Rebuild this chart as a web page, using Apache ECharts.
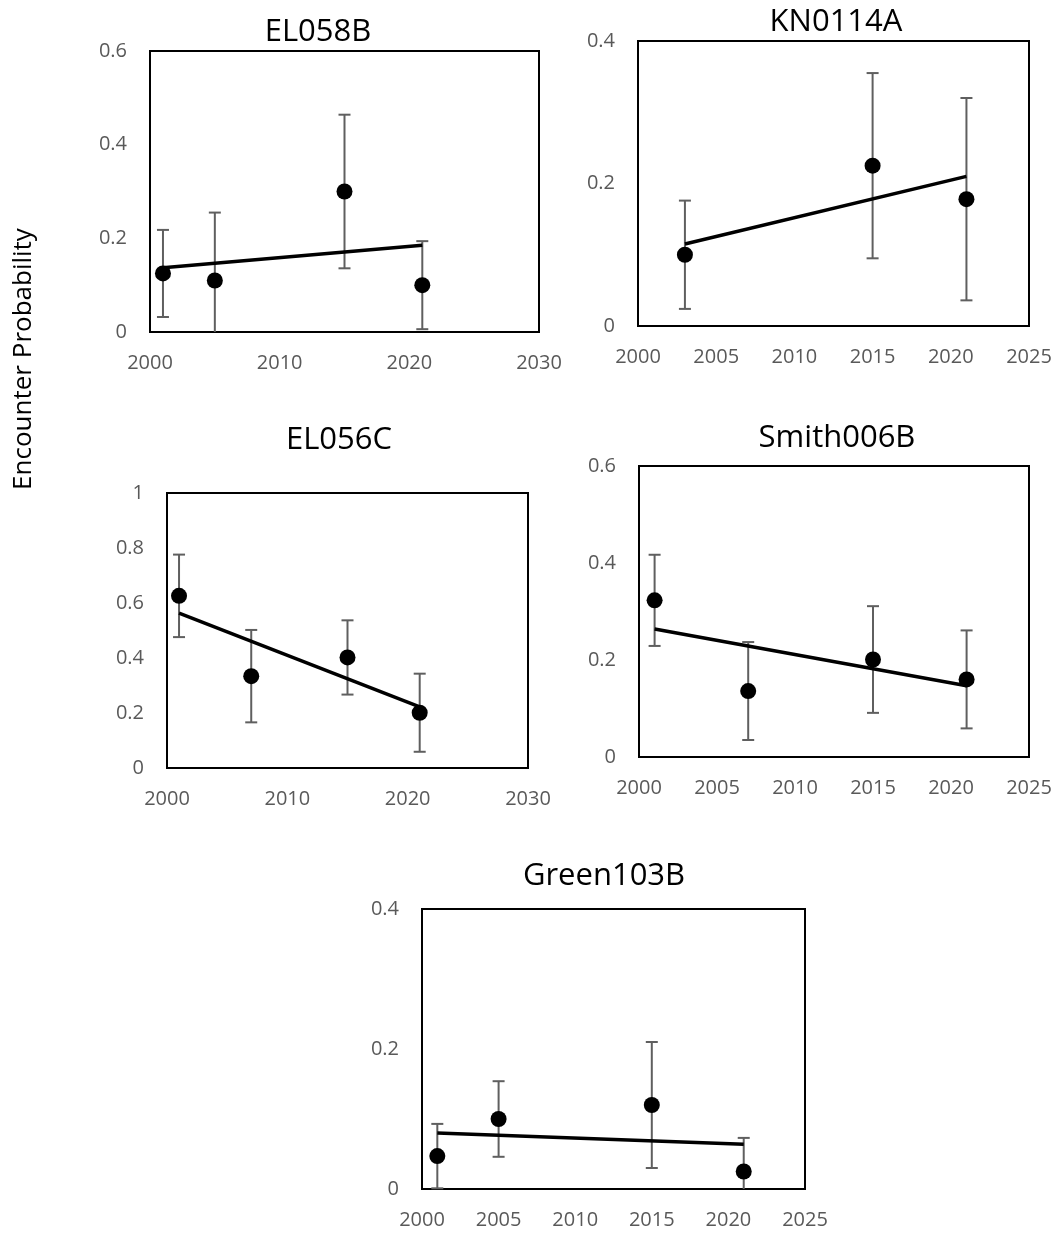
<!DOCTYPE html>
<html>
<head>
<meta charset="utf-8">
<script src="https://cdn.jsdelivr.net/npm/echarts@6/dist/echarts.min.js"></script>
<style>
  html, body { margin: 0; padding: 0; background: #fff; }
  #main { width: 1056px; height: 1235px; }
</style>
</head>
<body>
<div id="main"></div>
<script>
// panel data: survey years, encounter probability, +/- error, trend line ends
var el058bYears = [2001, 2005, 2015, 2021];
var el058bProb = [0.125, 0.11, 0.30, 0.10];
var el058bErr = [0.093, 0.145, 0.164, 0.094];
var el058bTrend = [0.137, 0.185];

var kn0114aYears = [2003, 2015, 2021];
var kn0114aProb = [0.10, 0.225, 0.178];
var kn0114aErr = [0.076, 0.13, 0.142];
var kn0114aTrend = [0.115, 0.21];

var el056cYears = [2001, 2007, 2015, 2021];
var el056cProb = [0.626, 0.334, 0.402, 0.201];
var el056cErr = [0.15, 0.168, 0.135, 0.142];
var el056cTrend = [0.563, 0.222];

var smithYears = [2001, 2007, 2015, 2021];
var smithProb = [0.323, 0.136, 0.201, 0.160];
var smithErr = [0.094, 0.101, 0.11, 0.101];
var smithTrend = [0.264, 0.147];

var greenYears = [2001, 2005, 2015, 2021];
var greenProb = [0.047, 0.10, 0.12, 0.025];
var greenErr = [0.046, 0.054, 0.09, 0.048];
var greenTrend = [0.080, 0.064];

var panels = [
  { name: 'EL058B', years: el058bYears, prob: el058bProb, err: el058bErr, trend: el058bTrend,
    xMax: 2030, xStep: 10, yMax: 0.6,
    grid: { left: 150, top: 51, width: 389, height: 281 }, title: [318, 32] },
  { name: 'KN0114A', years: kn0114aYears, prob: kn0114aProb, err: kn0114aErr, trend: kn0114aTrend,
    xMax: 2025, xStep: 5, yMax: 0.4,
    grid: { left: 638, top: 41, width: 391, height: 285 }, title: [836, 22] },
  { name: 'EL056C', years: el056cYears, prob: el056cProb, err: el056cErr, trend: el056cTrend,
    xMax: 2030, xStep: 10, yMax: 1,
    grid: { left: 167, top: 493, width: 361, height: 275 }, title: [339, 440] },
  { name: 'Smith006B', years: smithYears, prob: smithProb, err: smithErr, trend: smithTrend,
    xMax: 2025, xStep: 5, yMax: 0.6,
    grid: { left: 639, top: 466, width: 390, height: 291 }, title: [837, 438] },
  { name: 'Green103B', years: greenYears, prob: greenProb, err: greenErr, trend: greenTrend,
    xMax: 2025, xStep: 5, yMax: 0.4,
    grid: { left: 422, top: 909, width: 383, height: 280 }, title: [604, 876] }
];

var FONT = 'Open Sans';
var labelGray = '#595959';
var barGray = '#5f5f5f';

var grids = [], xAxes = [], yAxes = [], series = [], graphics = [];

// error bar: vertical line + caps, clamped to the plot box
function errorBarItem(params, api) {
  var x = api.value(0);
  var lo = api.coord([x, api.value(1)]);
  var hi = api.coord([x, api.value(2)]);
  var cs = params.coordSys;
  var bottom = cs.y + cs.height;
  var half = 6;
  var loY = Math.min(lo[1], bottom);
  var st = { stroke: barGray, lineWidth: 2 };
  var children = [
    { type: 'line', shape: { x1: hi[0], y1: hi[1], x2: lo[0], y2: loY }, style: st },
    { type: 'line', shape: { x1: hi[0] - half, y1: hi[1], x2: hi[0] + half, y2: hi[1] }, style: st }
  ];
  if (lo[1] <= bottom) {
    children.push({ type: 'line', shape: { x1: lo[0] - half, y1: lo[1], x2: lo[0] + half, y2: lo[1] }, style: st });
  }
  return { type: 'group', children: children };
}

panels.forEach(function (p, i) {
  grids.push({
    left: p.grid.left, top: p.grid.top, width: p.grid.width, height: p.grid.height,
    show: true, borderColor: '#000', borderWidth: 2, backgroundColor: 'transparent'
  });
  xAxes.push({
    type: 'value', gridIndex: i, min: 2000, max: p.xMax, interval: p.xStep,
    axisLine: { show: false }, axisTick: { show: false }, splitLine: { show: false },
    axisLabel: { color: labelGray, fontFamily: FONT, fontSize: 20, margin: 21,
      formatter: function (v) { return String(v); } }
  });
  yAxes.push({
    type: 'value', gridIndex: i, min: 0, max: p.yMax, interval: 0.2,
    axisLine: { show: false }, axisTick: { show: false }, splitLine: { show: false },
    axisLabel: { color: labelGray, fontFamily: FONT, fontSize: 20, margin: 23 }
  });

  var bars = p.years.map(function (yr, k) {
    return [yr, p.prob[k] - p.err[k], p.prob[k] + p.err[k]];
  });
  series.push({
    type: 'custom', xAxisIndex: i, yAxisIndex: i, silent: true,
    renderItem: errorBarItem, data: bars, z: 2
  });
  series.push({
    type: 'line', xAxisIndex: i, yAxisIndex: i, silent: true, symbol: 'none',
    lineStyle: { color: '#000', width: 3.5 },
    data: [[p.years[0], p.trend[0]], [p.years[p.years.length - 1], p.trend[1]]], z: 3
  });
  series.push({
    type: 'scatter', xAxisIndex: i, yAxisIndex: i, silent: true, symbolSize: 16,
    itemStyle: { color: '#000', opacity: 1 },
    data: p.years.map(function (yr, k) { return [yr, p.prob[k]]; }), z: 4
  });

  graphics.push({
    type: 'text', x: p.title[0], y: p.title[1],
    style: { text: p.name, fill: '#000', fontSize: 31, fontFamily: FONT,
      align: 'center', verticalAlign: 'middle' }
  });
});

graphics.push({
  type: 'text', x: 24, y: 359, rotation: Math.PI / 2,
  style: { text: 'Encounter Probability', fill: '#000', fontSize: 26, fontFamily: FONT,
    align: 'center', verticalAlign: 'middle' }
});

var chart = echarts.init(document.getElementById('main'), null, { renderer: 'canvas' });
chart.setOption({
  backgroundColor: '#fff',
  animation: false,
  grid: grids,
  xAxis: xAxes,
  yAxis: yAxes,
  series: series,
  graphic: graphics
});
</script>
</body>
</html>
